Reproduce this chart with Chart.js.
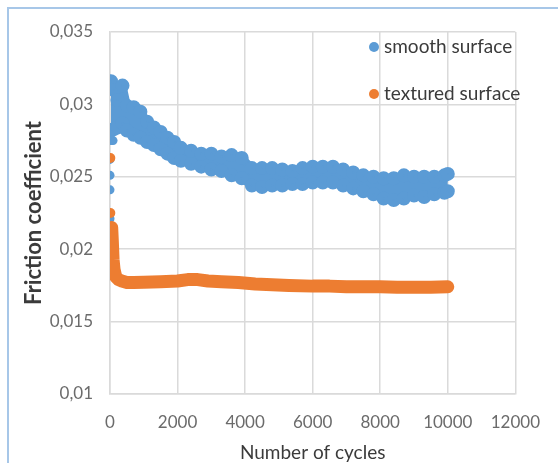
<!DOCTYPE html>
<html>
<head>
<meta charset="utf-8">
<script src="https://cdn.jsdelivr.net/npm/chart.js@4.4.1/dist/chart.umd.min.js"></script>
<style>
  html, body { margin: 0; padding: 0; background: #fff; overflow: hidden; }
  #wrap { position: relative; width: 558px; height: 463px; }
  #frame { position: absolute; left: 7px; top: 7px; width: 600px; height: 500px;
           border-left: 2px solid #a7c7e8; border-top: 2px solid #a7c7e8; }
  #wrap canvas { position: absolute; left: 0; top: 0; }
  .legend { position: absolute; left: 369px; font-family: Lato, sans-serif;
            font-size: 19px; line-height: 24px; color: #3b3b3b; white-space: nowrap; }
  .legend i { display: inline-block; width: 10px; height: 10px; border-radius: 50%;
              margin-right: 5px; vertical-align: 1px; }
</style>
</head>
<body>
<div id="wrap">
  <div id="frame"></div>
  <canvas id="chart" width="558" height="463"></canvas>
  <div class="legend" style="top:34px"><i style="background:#5b9bd5"></i>smooth surface</div>
  <div class="legend" style="top:81px"><i style="background:#ed7d31"></i>textured surface</div>
</div>
<script>
// smooth surface: upper and lower edge of the scatter band
const smoothCycles = [30, 120, 220, 370, 500, 700, 900, 1100, 1300, 1500, 1700, 1900, 2100, 2400, 2700, 3000, 3300, 3600, 3900, 4200, 4500, 4800, 5100, 5400, 5700, 6000, 6300, 6600, 6900, 7200, 7500, 7800, 8100, 8400, 8700, 9000, 9300, 9600, 9900, 10000];
const smoothUpper = [0.0316, 0.0310, 0.0303, 0.0313, 0.0299, 0.0298, 0.0295, 0.0288, 0.0284, 0.0281, 0.0277, 0.0274, 0.0270, 0.0268, 0.0266, 0.0266, 0.0264, 0.0265, 0.0263, 0.0256, 0.0256, 0.0256, 0.0255, 0.0254, 0.0256, 0.0257, 0.0257, 0.0257, 0.0255, 0.0253, 0.0251, 0.0250, 0.0249, 0.0249, 0.0251, 0.0250, 0.0250, 0.0250, 0.0251, 0.0252];
const smoothLower = [0.0282, 0.0283, 0.0284, 0.0287, 0.0282, 0.0279, 0.0277, 0.0274, 0.0272, 0.0269, 0.0266, 0.0263, 0.0261, 0.0259, 0.0257, 0.0255, 0.0254, 0.0251, 0.0249, 0.0244, 0.0243, 0.0244, 0.0244, 0.0245, 0.0245, 0.0246, 0.0246, 0.0246, 0.0244, 0.0242, 0.0240, 0.0238, 0.0235, 0.0234, 0.0235, 0.0237, 0.0236, 0.0238, 0.0239, 0.0240];
// isolated smooth-surface points at the start of the test
const smoothStartCycles = [0, 0, 0, 0, 0, 90, 0];
const smoothStartValues = [0.0221, 0.0241, 0.0251, 0.0262, 0.0275, 0.0275, 0.0279];

// textured surface
const texturedCycles = [50, 70, 90, 120, 170, 250, 350, 500, 700, 1000, 1500, 2000, 2300, 2600, 2900, 3300, 3800, 4300, 4800, 5300, 6000, 6500, 7000, 7500, 8000, 8500, 9000, 9500, 10000];
const texturedValues = [0.0215, 0.0205, 0.0193, 0.0186, 0.0181, 0.0179, 0.0178, 0.0177, 0.0177, 0.01772, 0.01775, 0.0178, 0.0179, 0.0179, 0.0178, 0.01775, 0.0177, 0.0176, 0.01755, 0.0175, 0.01745, 0.01745, 0.0174, 0.0174, 0.0174, 0.01738, 0.01738, 0.01738, 0.0174];
const texturedStartCycles = [10, 10];
const texturedStartValues = [0.0263, 0.0225];

const yTickLabels = ['0,01', '0,015', '0,02', '0,025', '0,03', '0,035'];
const xTickLabels = ['0', '2000', '4000', '6000', '8000', '10000', '12000'];

const BLUE = '#5b9bd5';
const ORANGE = '#ed7d31';

const pts = (xs, ys) => xs.map((x, i) => ({ x: x, y: ys[i] }));
const tickFont = { family: 'Lato, sans-serif', size: 17 };

new Chart(document.getElementById('chart'), {
    type: 'scatter',
    data: {
        datasets: [{
            label: 'textured surface',
            data: pts(texturedStartCycles, texturedStartValues),
            backgroundColor: ORANGE,
            borderColor: ORANGE,
            pointRadius: 5,
            borderWidth: 0
        }, {
            label: 'textured surface band',
            data: pts(texturedCycles, texturedValues),
            showLine: true,
            borderColor: ORANGE,
            backgroundColor: ORANGE,
            borderWidth: 13,
            borderCapStyle: 'round',
            borderJoinStyle: 'round',
            pointRadius: 0
        }, {
            label: 'smooth surface',
            data: pts(smoothStartCycles, smoothStartValues),
            backgroundColor: BLUE,
            borderColor: BLUE,
            pointRadius: 4.5,
            borderWidth: 0
        }, {
            label: 'smooth upper',
            data: pts(smoothCycles, smoothUpper),
            showLine: true,
            borderColor: BLUE,
            backgroundColor: BLUE,
            borderWidth: 8,
            borderJoinStyle: 'round',
            borderCapStyle: 'round',
            pointRadius: 3,
            fill: false
        }, {
            label: 'smooth lower',
            data: pts(smoothCycles, smoothLower),
            showLine: true,
            borderColor: BLUE,
            backgroundColor: BLUE,
            borderWidth: 8,
            borderJoinStyle: 'round',
            borderCapStyle: 'round',
            pointRadius: 3,
            fill: '-1'
        }]
    },
    options: {
        responsive: false,
        animation: false,
        layout: { padding: { left: 0, right: 30, top: 32, bottom: 0 } },
        plugins: { legend: { display: false }, tooltip: { enabled: false } },
        scales: {
            x: {
                type: 'linear',
                min: 0, max: 12000,
                afterFit: s => { s.height = 69; },
                ticks: {
                    stepSize: 2000,
                    padding: 18,
                    color: '#6b6b6b',
                    font: tickFont,
                    callback: (v, i) => xTickLabels[i]
                },
                grid: { color: '#dadada', lineWidth: 1.5, drawTicks: false },
                border: { color: '#dadada', width: 1.5 },
                title: {
                    display: true,
                    text: 'Number of cycles',
                    color: '#3b3b3b',
                    font: { family: 'Lato, sans-serif', size: 19, lineHeight: 1 },
                    padding: { top: 0, bottom: 1 }
                }
            },
            y: {
                min: 0.01, max: 0.035,
                afterFit: s => { s.width = 110; },
                ticks: {
                    stepSize: 0.005,
                    padding: 17,
                    color: '#6b6b6b',
                    font: tickFont,
                    callback: (v, i) => yTickLabels[i]
                },
                grid: { color: '#dadada', lineWidth: 1.5, drawTicks: false },
                border: { color: '#dadada', width: 1.5 },
                title: {
                    display: true,
                    text: 'Friction coefficient',
                    color: '#3b3b3b',
                    font: { family: 'Lato, sans-serif', size: 22, weight: 'bold', lineHeight: 1.2 },
                    padding: { top: 21, bottom: 0 }
                }
            }
        }
    }
});
</script>
</body>
</html>
